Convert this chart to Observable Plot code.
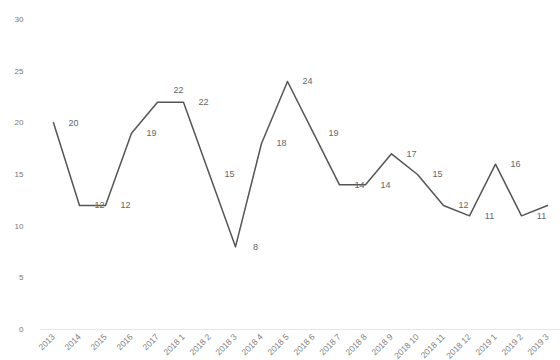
<!DOCTYPE html>
<html>
<head>
<meta charset="utf-8">
<script src="https://cdn.jsdelivr.net/npm/d3@7"></script>
<script src="https://cdn.jsdelivr.net/npm/@observablehq/plot@0.6"></script>
<style>
  html, body { margin: 0; padding: 0; background: #fff; }
  #chart { width: 560px; height: 360px; }
</style>
</head>
<body>
<div id="chart"></div>
<script>
// Periods along the horizontal axis
const periods = [
  "2013", "2014", "2015", "2016", "2017",
  "2018 1", "2018 2", "2018 3", "2018 4", "2018 5", "2018 6",
  "2018 7", "2018 8", "2018 9", "2018 10", "2018 11", "2018 12",
  "2019 1", "2019 2", "2019 3"
];
// Value for each period
const values = [20, 12, 12, 19, 22, 22, 15, 8, 18, 24, 19, 14, 14, 17, 15, 12, 11, 16, 11, 12];
// Vertical axis ticks
const yTicks = [0, 5, 10, 15, 20, 25, 30];

const data = periods.map((p, i) => ({period: p, value: values[i], i}));

// A label sitting on a flat segment that rises into a plateau is lifted above it
const lifted = d => d.i > 0 && d.i + 1 < data.length &&
  data[d.i + 1].value === d.value && data[d.i - 1].value < d.value;

const chart = Plot.plot({
  width: 560,
  height: 360,
  marginLeft: 51,
  marginRight: 12,
  marginTop: 19,
  marginBottom: 31,
  style: {fontFamily: "Liberation Sans, Arial, sans-serif", background: "#fff"},
  x: {type: "point", domain: periods, padding: 0, label: null},
  y: {domain: [0, 30], ticks: yTicks, label: null},
  marks: [
    Plot.ruleY([0], {stroke: "#e6e6e6", strokeWidth: 1, insetLeft: -11, insetRight: -12}),
    Plot.axisY({ticks: yTicks, tickSize: 0, tickPadding: 28, fontSize: 8, fill: "#777", label: null}),
    Plot.axisX({tickSize: 0, tickPadding: 6, tickRotate: -45, fontSize: 8.5, fill: "#808080", label: null}),
    Plot.line(data, {x: "period", y: "value", stroke: "#555", strokeWidth: 1.5}),
    Plot.text(data.filter(d => !lifted(d)), {
      x: "period", y: "value", text: d => String(d.value),
      dx: 20, fontSize: 9, fill: "#666"
    }),
    Plot.text(data.filter(lifted), {
      x: "period", y: "value", text: d => String(d.value),
      dx: 21, dy: -12, fontSize: 9, fill: "#666"
    })
  ]
});

document.getElementById("chart").appendChild(chart);
</script>
</body>
</html>
